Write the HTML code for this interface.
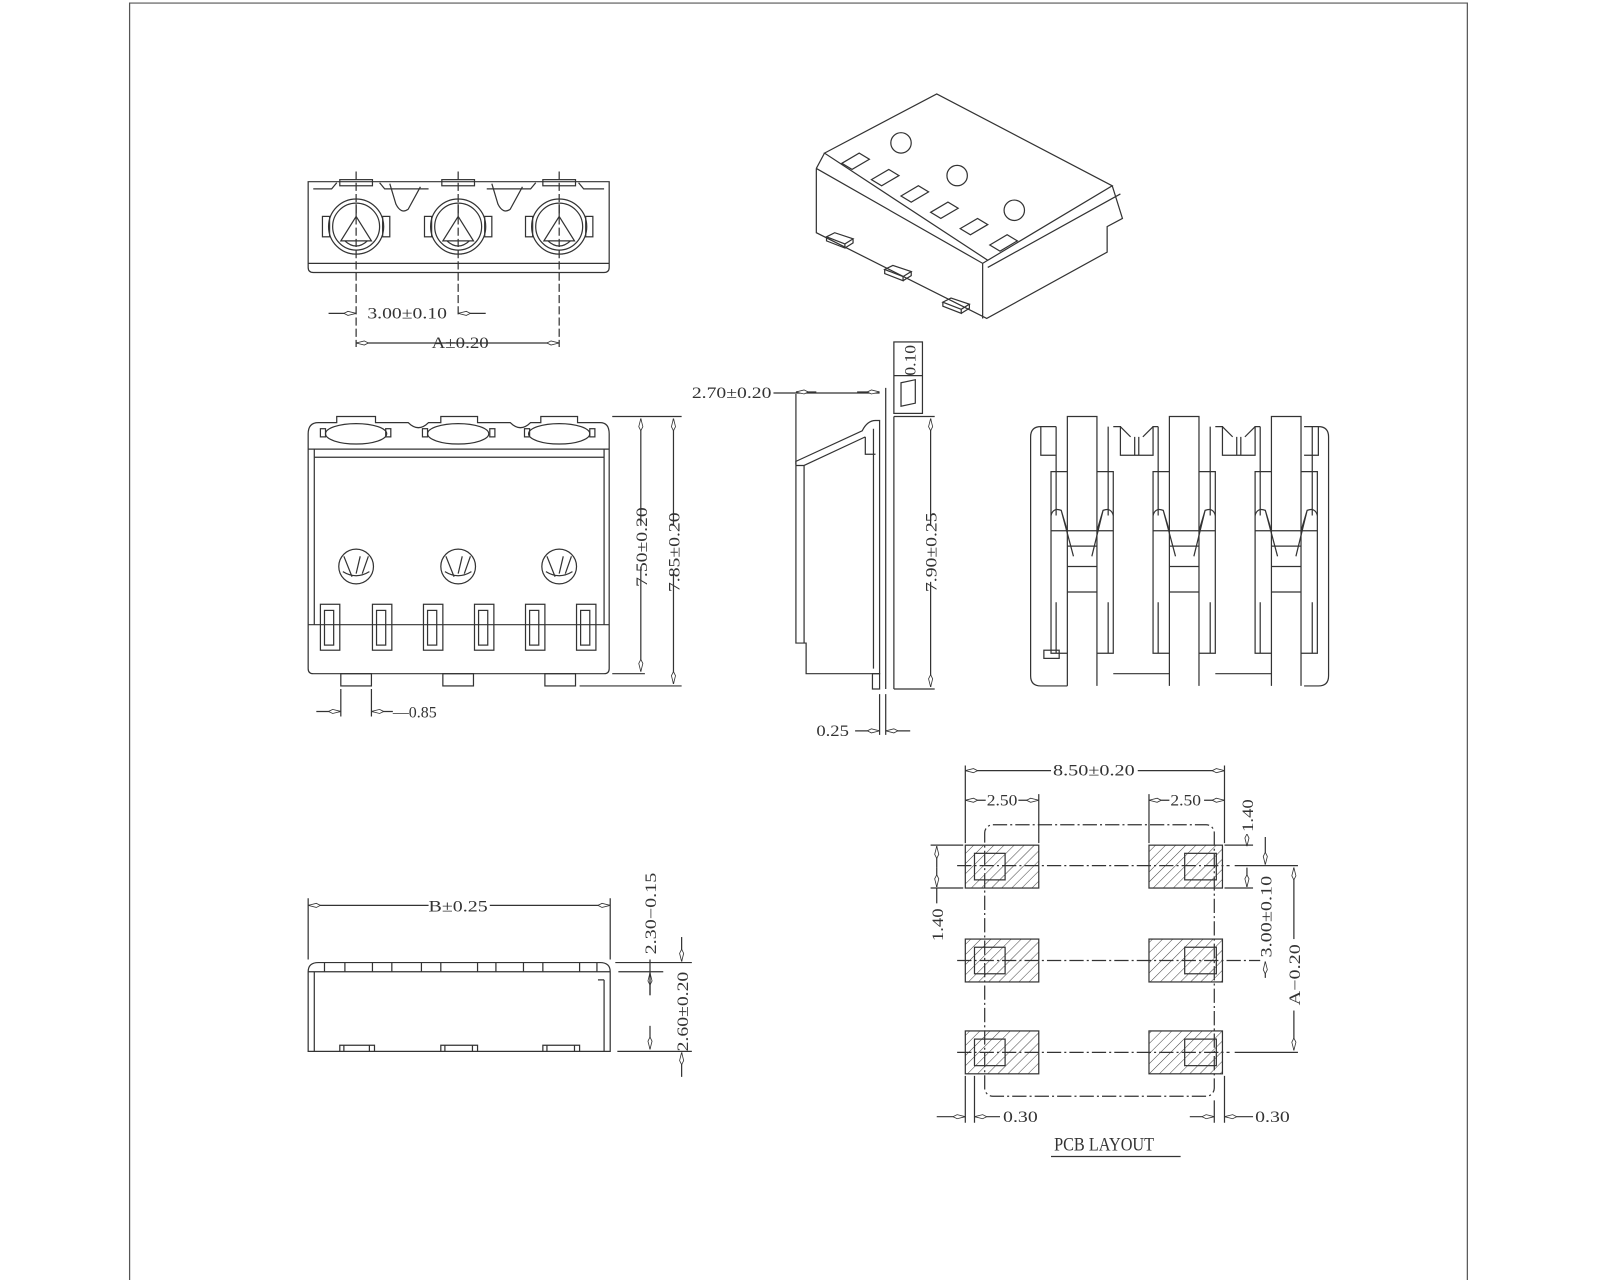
<!DOCTYPE html>
<html><head><meta charset="utf-8"><style>
html,body{margin:0;padding:0;background:#fff}
svg{display:block}
text{font-family:"Liberation Serif",serif;font-size:15px;fill:#333}
</style></head><body>
<svg width="1600" height="1280" viewBox="0 0 1568 1254" preserveAspectRatio="none" xmlns="http://www.w3.org/2000/svg">
<defs>
<pattern id="h" width="7" height="7" patternUnits="userSpaceOnUse" patternTransform="rotate(45)">
<line x1="0" y1="0" x2="0" y2="7" stroke="#444" stroke-width="1"/></pattern>
<marker id="a" viewBox="0 0 12 6" refX="12" refY="3" markerWidth="12" markerHeight="6" orient="auto-start-reverse" markerUnits="userSpaceOnUse"><path d="M0,3 L4,1 L12,3 L4,5 Z" fill="#fff" stroke="#333" stroke-width="0.8"/></marker>
</defs>
<g fill="none" stroke="#333" stroke-width="1.2">
<path d="M127,1254 V3 H1438 V1254" stroke="#555"/>

<path d="M302,178 H597 V262 Q597,267 592,267 H307 Q302,267 302,262 Z"/>
<line x1="302" y1="258" x2="597" y2="258"/>
<path d="M307,185 H325 L330,179 M372,179 L377,185 H420 M477,185 H520 L525,179 M567,179 L572,185 H592"/>
<path d="M382,180 L388,200 Q393,210 400,205 L412,183 M482,180 L488,200 Q493,210 500,205 L512,183"/>
<g id="tc">
<circle cx="349" cy="222" r="27"/>
<circle cx="349" cy="222" r="23"/>
<rect x="316" y="212" width="7" height="20"/><rect x="375" y="212" width="7" height="20"/>
<path d="M349,200 L349,212 L334,236 L364,236 L349,212 M338,236 Q349,246 360,236"/>
</g>
<use href="#tc" x="100"/><use href="#tc" x="199"/>
<rect x="333" y="176" width="32" height="6"/><rect x="433" y="176" width="32" height="6"/><rect x="532" y="176" width="32" height="6"/>
<path d="M349,168 V340 M449,168 V310 M548,168 V340" stroke-dasharray="8,3"/>
<line x1="322" y1="307" x2="349" y2="307" marker-end="url(#a)"/>
<line x1="476" y1="307" x2="449" y2="307" marker-end="url(#a)"/>
<line x1="349" y1="336" x2="548" y2="336" marker-start="url(#a)" marker-end="url(#a)"/>

<path d="M808,150 L918,92 L1090,182 L968,255 Z"/>
<path d="M800,165 L808,150 M800,165 L963,258 L968,255 M963,258 L963,312 M800,165 V228 L967,312 L1085,247 V222 L1100,214 L1090,182 M968,262 L1098,190"/>
<circle cx="883" cy="140" r="10"/><circle cx="938" cy="172" r="10"/><circle cx="994" cy="206" r="10"/>
<g id="sl"><path d="M825,160 L842,150 L852,156 L835,166 Z"/></g>
<use href="#sl" x="29" y="16"/><use href="#sl" x="58" y="32"/><use href="#sl" x="87" y="48"/><use href="#sl" x="116" y="64"/><use href="#sl" x="145" y="80"/>
<g id="pn"><path d="M810,232 L818,228 L836,234 L828,239 Z M810,232 V236 L828,243 V239 M828,243 L836,238 V234"/></g>
<use href="#pn" x="57" y="32"/><use href="#pn" x="114" y="64"/>

<path d="M302,425 Q302,414 312,414 H330 V408 H368 V414 H400 Q410,424 420,414 H432 V408 H468 V414 H500 Q510,424 520,414 H530 V408 H566 V414 H588 Q597,414 597,425 V655 Q597,660 592,660 H307 Q302,660 302,655 Z"/>
<path d="M302,440 H597 M308,448 H592 M308,440 V612 M592,440 V612 M302,612 H597"/>
<ellipse cx="349" cy="425" rx="30" ry="10"/><ellipse cx="449" cy="425" rx="30" ry="10"/><ellipse cx="548" cy="425" rx="30" ry="10"/>
<rect x="314" y="420" width="5" height="8"/><rect x="378" y="420" width="5" height="8"/><rect x="414" y="420" width="5" height="8"/><rect x="480" y="420" width="5" height="8"/><rect x="514" y="420" width="5" height="8"/><rect x="578" y="420" width="5" height="8"/>
<g id="fc"><circle cx="349" cy="555" r="17"/><path d="M337,545 L345,565 M353,545 L349,562 M361,545 L355,562 M336,560 Q349,568 362,560"/></g>
<use href="#fc" x="100"/><use href="#fc" x="199"/>
<g id="fs"><rect x="314" y="592" width="19" height="45"/><rect x="318" y="598" width="9" height="34"/></g>
<use href="#fs" x="51"/><use href="#fs" x="101"/><use href="#fs" x="151"/><use href="#fs" x="201"/><use href="#fs" x="251"/>
<rect x="334" y="660" width="30" height="12"/><rect x="434" y="660" width="30" height="12"/><rect x="534" y="660" width="30" height="12"/>
<path d="M600,408 H668 M600,660 H632 M568,672 H668"/>
<line x1="628" y1="515" x2="628" y2="410" marker-end="url(#a)"/>
<line x1="628" y1="555" x2="628" y2="658" marker-end="url(#a)"/>
<line x1="660" y1="515" x2="660" y2="410" marker-end="url(#a)"/>
<line x1="660" y1="560" x2="660" y2="670" marker-end="url(#a)"/>
<path d="M334,675 V702 M364,675 V702"/>
<line x1="310" y1="697" x2="334" y2="697" marker-end="url(#a)"/>
<line x1="385" y1="697" x2="364" y2="697" marker-end="url(#a)"/>

<path d="M780,452 L845,422 Q850,412 858,412 H862 V660 H790 V630 H780 Z"/>
<path d="M780,456 L788,456 M788,456 V630 M788,456 L848,428 M848,428 V445 H858 M856,420 V655"/>
<rect x="855" y="660" width="7" height="15"/>
<path d="M868,380 V675 M876,408 V675 M876,408 H916 M876,675 H916 M862,680 V720 M868,680 V720"/>
<rect x="876" y="335" width="28" height="70"/><line x1="876" y1="368" x2="904" y2="368"/>
<path d="M883,375 L897,372 V395 L883,398 Z"/>
<path d="M780,386 V455"/>
<line x1="758" y1="385" x2="862" y2="385"/>
<line x1="840" y1="384" x2="862" y2="384" marker-end="url(#a)"/>
<line x1="800" y1="384" x2="780" y2="384" marker-end="url(#a)"/>
<line x1="912" y1="515" x2="912" y2="410" marker-end="url(#a)"/>
<line x1="912" y1="570" x2="912" y2="673" marker-end="url(#a)"/>
<line x1="838" y1="716" x2="862" y2="716" marker-end="url(#a)"/>
<line x1="892" y1="716" x2="868" y2="716" marker-end="url(#a)"/>

<path d="M1020,418 H1035 M1010,428 Q1010,418 1020,418 M1302,428 Q1302,418 1292,418 H1278 M1010,428 V662 Q1010,672 1020,672 H1046 M1302,428 V662 Q1302,672 1292,672 H1278"/>
<g id="ct">
<path d="M1046,672 V408 H1075 V672 M1046,462 H1030 V640 H1046 M1075,462 H1091 V640 H1075"/>
<path d="M1035,418 V462 M1086,418 V462"/>
<path d="M1030,505 Q1032,497 1040,500 L1046,520 M1091,505 Q1089,497 1081,500 L1075,520 M1040,500 L1052,545 M1081,500 L1070,545 M1046,535 H1075 M1046,555 H1075 M1046,580 H1075 M1030,520 H1091 M1035,462 V505 M1086,462 V505 M1035,590 V640 M1086,590 V640"/>
</g>
<use href="#ct" x="100"/><use href="#ct" x="200"/>
<path d="M1091,418 H1098 V446 H1130 V418 H1135 M1098,418 L1108,428 M1130,418 L1120,428 M1112,428 V446 M1116,428 V446"/>
<path d="M1191,418 H1198 V446 H1230 V418 H1235 M1198,418 L1208,428 M1230,418 L1220,428 M1212,428 V446 M1216,428 V446"/>
<path d="M1091,660 H1146 M1191,660 H1246"/>
<rect x="1023" y="637" width="15" height="8"/>
<path d="M1020,418 V446 H1035 M1292,418 V446 H1278"/>

<path d="M302,952 V1030 H598 V952 M302,952 Q302,943 312,943 H588 Q598,943 598,952 M302,952 H598 M308,952 V1030 M592,960 V1030 M586,960 H592"/>
<path d="M318,943 V952 M338,943 V952 M365,943 V952 M384,943 V952 M413,943 V952 M432,943 V952 M468,943 V952 M486,943 V952 M513,943 V952 M532,943 V952 M568,943 V952 M585,943 V952"/>
<path d="M333,1030 V1024 H367 V1030 M337,1024 V1030 M362,1024 V1030"/>
<path d="M432,1030 V1024 H468 V1030 M436,1024 V1030 M463,1024 V1030"/>
<path d="M532,1030 V1024 H568 V1030 M536,1024 V1030 M563,1024 V1030"/>
<path d="M302,880 V940 M598,880 V940 M603,943 H678 M606,952 H650 M605,1030 H678"/>
<line x1="420" y1="887" x2="302" y2="887" marker-end="url(#a)"/>
<line x1="480" y1="887" x2="598" y2="887" marker-end="url(#a)"/>
<line x1="668" y1="918" x2="668" y2="942" marker-end="url(#a)"/>
<line x1="668" y1="1055" x2="668" y2="1031" marker-end="url(#a)"/>
<line x1="637" y1="975" x2="637" y2="953" marker-end="url(#a)"/>
<line x1="637" y1="1005" x2="637" y2="1028" marker-end="url(#a)"/>
<line x1="637" y1="940" x2="637" y2="975"/>

<rect x="965" y="808" width="225" height="266" rx="8" stroke-dasharray="14,3,2,3"/>
<g stroke="#333">
<rect x="946" y="828" width="72" height="42" fill="url(#h)"/><rect x="1126" y="828" width="72" height="42" fill="url(#h)"/>
<rect x="946" y="920" width="72" height="42" fill="url(#h)"/><rect x="1126" y="920" width="72" height="42" fill="url(#h)"/>
<rect x="946" y="1010" width="72" height="42" fill="url(#h)"/><rect x="1126" y="1010" width="72" height="42" fill="url(#h)"/>
<rect x="955" y="836" width="30" height="26"/><rect x="1161" y="836" width="31" height="26"/>
<rect x="955" y="928" width="30" height="26"/><rect x="1161" y="928" width="31" height="26"/>
<rect x="955" y="1018" width="30" height="26"/><rect x="1161" y="1018" width="31" height="26"/>
</g>
<path d="M938,848 H1205 M938,941 H1235 M938,1031 H1205" stroke-dasharray="14,3,2,3"/>
<path d="M1210,848 H1272 M1210,1031 H1272 M946,750 V826 M1200,750 V826 M1018,778 V826 M1126,778 V826 M912,828 H944 M912,870 H944 M1200,828 H1228 M1200,870 H1228 M946,1054 V1100 M955,1054 V1100 M1190,1078 V1100 M1200,1054 V1100"/>
<line x1="1030" y1="755" x2="946" y2="755" marker-end="url(#a)"/>
<line x1="1115" y1="755" x2="1200" y2="755" marker-end="url(#a)"/>
<line x1="966" y1="784" x2="946" y2="784" marker-end="url(#a)"/>
<line x1="998" y1="784" x2="1018" y2="784" marker-end="url(#a)"/>
<line x1="1146" y1="784" x2="1126" y2="784" marker-end="url(#a)"/>
<line x1="1180" y1="784" x2="1200" y2="784" marker-end="url(#a)"/>
<line x1="918" y1="850" x2="918" y2="829" marker-end="url(#a)"/>
<line x1="918" y1="850" x2="918" y2="869" marker-end="url(#a)"/>
<line x1="918" y1="870" x2="918" y2="885"/>
<line x1="1222" y1="820" x2="1222" y2="829" marker-end="url(#a)"/>
<line x1="1222" y1="850" x2="1222" y2="869" marker-end="url(#a)"/>
<line x1="1240" y1="820" x2="1240" y2="847" marker-end="url(#a)"/>
<line x1="1240" y1="958" x2="1240" y2="942" marker-end="url(#a)"/>
<line x1="1268" y1="920" x2="1268" y2="850" marker-end="url(#a)"/>
<line x1="1268" y1="990" x2="1268" y2="1029" marker-end="url(#a)"/>
<line x1="918" y1="1094" x2="946" y2="1094" marker-end="url(#a)"/>
<line x1="980" y1="1094" x2="955" y2="1094" marker-end="url(#a)"/>
<line x1="1166" y1="1094" x2="1190" y2="1094" marker-end="url(#a)"/>
<line x1="1228" y1="1094" x2="1200" y2="1094" marker-end="url(#a)"/>
<line x1="1030" y1="1133" x2="1157" y2="1133"/>
</g>

<g>
<text x="360" y="312" textLength="78" lengthAdjust="spacingAndGlyphs">3.00±0.10</text>
<text x="423" y="341" textLength="56" lengthAdjust="spacingAndGlyphs">A±0.20</text>
<text x="678" y="390" textLength="78" lengthAdjust="spacingAndGlyphs">2.70±0.20</text>
<text x="385" y="703" textLength="43" lengthAdjust="spacingAndGlyphs">—0.85</text>
<text x="800" y="721" textLength="32" lengthAdjust="spacingAndGlyphs">0.25</text>
<text transform="translate(634,575) rotate(-90)" textLength="78" lengthAdjust="spacingAndGlyphs">7.50±0.20</text>
<text transform="translate(666,580) rotate(-90)" textLength="78" lengthAdjust="spacingAndGlyphs">7.85±0.20</text>
<text transform="translate(918,580) rotate(-90)" textLength="78" lengthAdjust="spacingAndGlyphs">7.90±0.25</text>
<text transform="translate(897,368) rotate(-90)" textLength="30" lengthAdjust="spacingAndGlyphs">0.10</text>
<text x="420" y="893" textLength="58" lengthAdjust="spacingAndGlyphs">B±0.25</text>
<text transform="translate(643,935) rotate(-90)" textLength="80" lengthAdjust="spacingAndGlyphs">2.30−0.15</text>
<text transform="translate(674,1030) rotate(-90)" textLength="78" lengthAdjust="spacingAndGlyphs">2.60±0.20</text>
<text x="1032" y="760" textLength="80" lengthAdjust="spacingAndGlyphs">8.50±0.20</text>
<text x="967" y="789" textLength="30" lengthAdjust="spacingAndGlyphs">2.50</text>
<text x="1147" y="789" textLength="30" lengthAdjust="spacingAndGlyphs">2.50</text>
<text transform="translate(924,922) rotate(-90)" textLength="32" lengthAdjust="spacingAndGlyphs">1.40</text>
<text transform="translate(1228,815) rotate(-90)" textLength="32" lengthAdjust="spacingAndGlyphs">1.40</text>
<text transform="translate(1246,938) rotate(-90)" textLength="80" lengthAdjust="spacingAndGlyphs">3.00±0.10</text>
<text transform="translate(1274,985) rotate(-90)" textLength="60" lengthAdjust="spacingAndGlyphs">A−0.20</text>
<text x="983" y="1099" textLength="34" lengthAdjust="spacingAndGlyphs">0.30</text>
<text x="1230" y="1099" textLength="34" lengthAdjust="spacingAndGlyphs">0.30</text>
<text x="1033" y="1127" style="font-size:19px" textLength="98" lengthAdjust="spacingAndGlyphs">PCB LAYOUT</text>
</g>
</svg>
</body></html>
